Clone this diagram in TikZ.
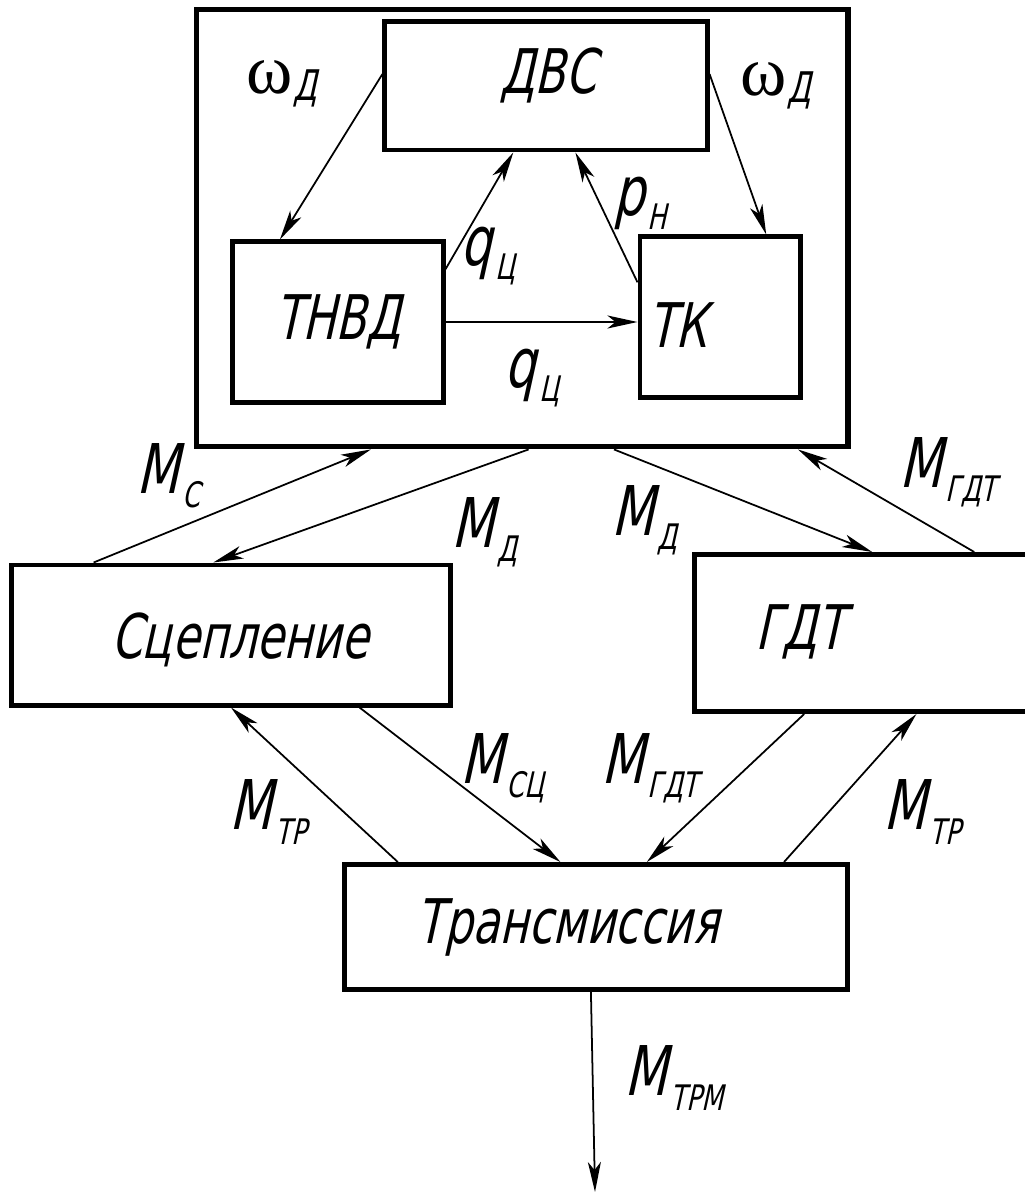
\documentclass[tikz,border=0pt]{standalone}
\usepackage{fontspec}
\newfontfamily\gostfont{DejaVu Sans}[FakeStretch=0.72, FakeSlant=0.22]
\newfontfamily\timesfont{Liberation Serif}
\usetikzlibrary{arrows.meta, calc}
% Symbol with a lowered index, drawing-font style.
\newcommand{\msym}[2]{#1\kern1pt\raisebox{-4pt}{\fontsize{10}{10}\selectfont #2}}
\newcommand{\omegad}{{\timesfont\fontsize{20}{20}\selectfont ω}\raisebox{-2pt}{\fontsize{12}{12}\selectfont Д}}
\tikzset{
  % Block of the scheme.
  blk/.style={
    rectangle, draw=black, line width=1.4pt,
    fill=white, inner sep=0pt,
    font=\gostfont\fontsize{17.5}{20}\selectfont,
  },
  % Outer engine frame.
  enginebox/.style={blk, line width=1.6pt, fill=none},
  % Block title placed off-centre.
  ttl/.style={inner sep=0pt, font=\gostfont\fontsize{17.5}{20}\selectfont},
  % Signal arrows.
  flow/.style={
    -{Stealth[length=3mm, width=1.3mm, inset=0.8mm]},
    line width=0.5pt,
  },
  % Signal labels.
  tag/.style={inner sep=0pt, font=\gostfont\fontsize{19.5}{22}\selectfont},
}
\begin{document}
\begin{tikzpicture}[x=0.01cm, y=-0.01cm]
  \useasboundingbox (0,0) rectangle (1024,1194);

  % Engine frame with its inner blocks.
  \node[enginebox, minimum width=6.51cm, minimum height=4.37cm] (engine) at (522,228) {};
  \node[blk, minimum width=3.22cm, minimum height=1.28cm] (dvs) at (546,86) {};
  \node[ttl] at (548,75) {ДВС};
  \node[blk, minimum width=2.10cm, minimum height=1.60cm] (tnvd) at (338,322) {ТНВД};
  \node[blk, minimum width=1.60cm, minimum height=1.60cm] (tk) at (720,317) {};
  \node[ttl] at (678,325) {ТК};

  % Lower blocks.
  \node[blk, minimum width=4.38cm, minimum height=1.40cm] (scep) at (231,635) {};
  \node[ttl] at (240,640) {Сцепление};
  \node[blk, minimum width=3.35cm, minimum height=1.57cm] (gdt) at (862,633) {};
  \node[ttl] at (800,632) {ГДТ};
  \node[blk, minimum width=5.03cm, minimum height=1.25cm] (trans) at (596,927) {};
  \node[ttl] at (568,927) {Трансмиссия};
  \coordinate (out) at (595,1192);

  % Links inside the engine frame.
  \draw[flow] ($(dvs.north west)!0.41!(dvs.south west)$) -- ($(tnvd.north west)!0.23!(tnvd.north east)$);
  \draw[flow] ($(dvs.north east)!0.41!(dvs.south east)$) -- ($(tk.north west)!0.78!(tk.north east)$);
  \draw[flow] ($(tnvd.north east)!0.18!(tnvd.south east)$) -- ($(dvs.south west)!0.40!(dvs.south east)$);
  \draw[flow] ($(tk.north west)!0.29!(tk.south west)$) -- ($(dvs.south west)!0.59!(dvs.south east)$);
  \draw[flow] (tnvd.east) -- (tnvd.east -| tk.west);

  % Frame <-> clutch and torque converter.
  \draw[flow] ($(scep.north west)!0.19!(scep.north east)$) -- ($(engine.south west)!0.27!(engine.south east)$);
  \draw[flow] ($(engine.south west)!0.51!(engine.south east)$) -- ($(scep.north west)!0.46!(scep.north east)$);
  \draw[flow] ($(engine.south west)!0.64!(engine.south east)$) -- ($(gdt.north west)!0.53!(gdt.north east)$);
  \draw[flow] ($(gdt.north west)!0.83!(gdt.north east)$) -- ($(engine.south west)!0.92!(engine.south east)$);

  % Clutch and torque converter <-> transmission.
  \draw[flow] ($(scep.south west)!0.79!(scep.south east)$) -- ($(trans.north west)!0.43!(trans.north east)$);
  \draw[flow] ($(trans.north west)!0.11!(trans.north east)$) -- ($(scep.south west)!0.50!(scep.south east)$);
  \draw[flow] ($(gdt.south west)!0.33!(gdt.south east)$) -- ($(trans.north west)!0.60!(trans.north east)$);
  \draw[flow] ($(trans.north west)!0.87!(trans.north east)$) -- ($(gdt.south west)!0.66!(gdt.south east)$);
  \draw[flow] ($(trans.south west)!0.49!(trans.south east)$) -- (out);

  % Labels.
  \node[tag] at (282,84) {\omegad};
  \node[tag] at (776,86) {\omegad};
  \node[tag] at (488,256) {\msym{q}{Ц}};
  \node[tag] at (640,203) {\msym{p}{Н}};
  \node[tag] at (532,378) {\msym{q}{Ц}};
  \node[tag] at (168,476) {\msym{M}{С}};
  \node[tag] at (484,532) {\msym{M}{Д}};
  \node[tag] at (644,520) {\msym{M}{Д}};
  \node[tag] at (948,472) {\msym{M}{ГДТ}};
  \node[tag] at (502,768) {\msym{M}{СЦ}};
  \node[tag] at (650,768) {\msym{M}{ГДТ}};
  \node[tag] at (268,812) {\msym{M}{ТР}};
  \node[tag] at (922,812) {\msym{M}{ТР}};
  \node[tag] at (674,1078) {\msym{M}{ТРМ}};
\end{tikzpicture}
\end{document}
